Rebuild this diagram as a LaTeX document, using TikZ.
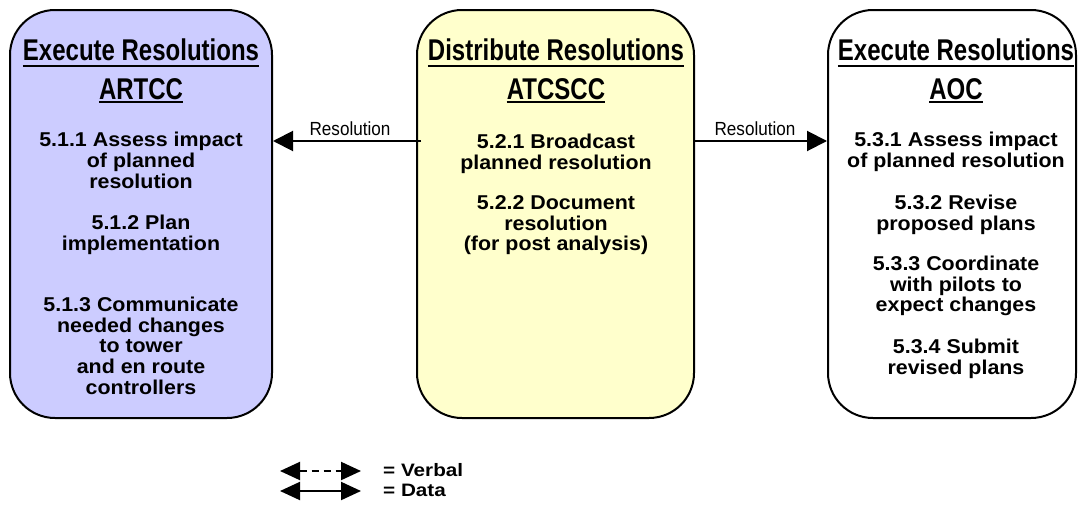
\documentclass[tikz,border=0pt]{standalone}
\usepackage{fontspec}
\setmainfont{Liberation Sans}
\newfontfamily\hdrfam[FakeStretch=0.80]{Liberation Sans}
\newfontfamily\bodyfam[FakeStretch=1.07]{Liberation Sans}
\newfontfamily\lblfam[FakeStretch=0.90]{Liberation Sans}
\newfontfamily\legfam[FakeStretch=1.15]{Liberation Sans}
\usetikzlibrary{arrows.meta}

\definecolor{lanebluefill}{HTML}{CCCCFF}
\definecolor{laneyellowfill}{HTML}{FFFFCC}

% multi-line centred block whose reference point is the first baseline
\newcommand{\steplines}[1]{\begin{tabular}[t]{@{}c@{}}#1\end{tabular}}

\tikzset{
  lane/.style={draw=black, line width=2pt, rounded corners=45pt,
    minimum height=408pt, inner sep=0pt},
  hdr/.style={font=\hdrfam\bfseries\fontsize{30}{32}\selectfont, inner sep=0pt, anchor=base},
  ul/.style={line width=2.4pt},
  body/.style={font=\bodyfam\bfseries\fontsize{20}{20.7}\selectfont, inner sep=0pt, anchor=base},
  flowlbl/.style={font=\lblfam\fontsize{19}{21}\selectfont, inner sep=0pt, anchor=base},
  legtxt/.style={font=\legfam\bfseries\fontsize{18}{19}\selectfont, inner sep=0pt, anchor=base west},
  data/.style={line width=2pt, -{Triangle[length=20pt,width=20pt]}},
  legtip/.style={line width=2pt, {Triangle[length=20pt,width=18pt]}-{Triangle[length=20pt,width=18pt]}},
}

\begin{document}
\begin{tikzpicture}[x=1pt, y=-1pt]
\useasboundingbox (0,0) rectangle (1078,506);

% swim lanes
\node[lane, fill=lanebluefill, minimum width=262pt] (L) at (141,214) {};
\node[lane, fill=laneyellowfill, minimum width=277pt] (M) at (555.5,214) {};
\node[lane, fill=white, minimum width=248pt] (R) at (952,214) {};

% lane headers
\node[hdr] (Lh1) at (141,60) {Execute Resolutions};
\node[hdr] (Lh2) at (141,99) {ARTCC};
\node[hdr] (Mh1) at (556,60) {Distribute Resolutions};
\node[hdr] (Mh2) at (556,99) {ATCSCC};
\node[hdr] (Rh1) at (956,60) {Execute Resolutions};
\node[hdr] (Rh2) at (956,99) {AOC};
\foreach \h in {Lh1,Mh1,Rh1} \draw[ul] (\h.west |- 0,66) -- (\h.east |- 0,66);
\foreach \h in {Lh2,Mh2,Rh2} \draw[ul] (\h.west |- 0,102) -- (\h.east |- 0,102);

% ARTCC activities
\node[body] (L1) at (141,146.7) {\steplines{5.1.1 Assess impact\\of planned\\resolution}};
\node[body] (L2) at (141,229.5) {\steplines{5.1.2 Plan\\implementation}};
\node[body] (L3) at (141,311.5) {\steplines{5.1.3 Communicate\\needed changes\\to tower\\and en route\\controllers}};

% ATCSCC activities
\node[body] (M1) at (556,148.5) {\steplines{5.2.1 Broadcast\\planned resolution}};
\node[body] (M2) at (556,209.5) {\steplines{5.2.2 Document\\resolution\\(for post analysis)}};

% AOC activities
\node[body] (R1) at (956,146.7) {\steplines{5.3.1 Assess impact\\of planned resolution}};
\node[body] (R2) at (956,209.5) {\steplines{5.3.2 Revise\\proposed plans}};
\node[body] (R3) at (956,270.5) {\steplines{5.3.3 Coordinate\\with pilots to\\expect changes}};
\node[body] (R4) at (956,353.5) {\steplines{5.3.4 Submit\\revised plans}};

% resolution flows
\draw[data] ([xshift=5pt]M.west |- 0,141) -- (L.east |- 0,141);
\draw[data] (M.east |- 0,141) -- (R.west |- 0,141);
\node[flowlbl] (f1) at (350,135.5) {Resolution};
\node[flowlbl] (f2) at (755,135.5) {Resolution};

% legend
\coordinate (va) at (280,471);
\coordinate (vb) at (361,471);
\coordinate (da) at (280,491);
\coordinate (db) at (361,491);
\draw[legtip, dash pattern=on 7pt off 5pt] (va) -- (vb);
\draw[legtip] (da) -- (db);
\node[legtxt] (lv) at (383,476.5) {= Verbal};
\node[legtxt] (ld) at (383,496) {= Data};
\end{tikzpicture}
\end{document}
